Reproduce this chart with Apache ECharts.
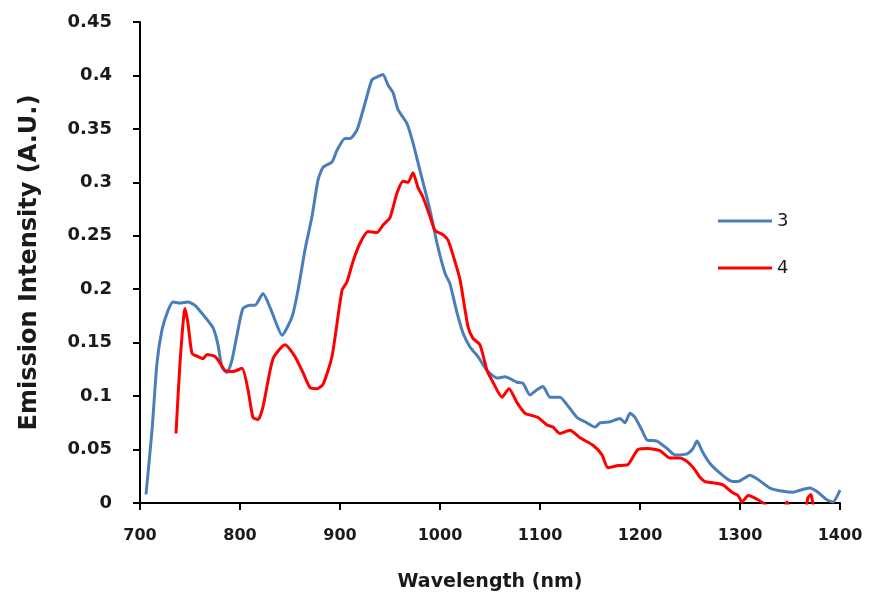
<!DOCTYPE html>
<html>
<head>
<meta charset="utf-8">
<script src="https://cdn.jsdelivr.net/npm/echarts@6.0.0/dist/echarts.min.js"></script>
<style>
  html, body { margin: 0; padding: 0; background: #fff; }
  #chart { width: 873px; height: 607px; }
</style>
</head>
<body>
<div id="chart"></div>
<script>
// sample 3 (blue)
var wl3 = [706, 712, 717, 722, 728, 733, 740, 748, 755, 765, 773, 778, 782, 787, 792, 798, 803, 810, 815, 823,
  830, 835, 842, 852, 858, 865, 872, 878, 883, 892, 897, 905, 910, 917, 925, 932, 938, 943, 948, 953,
  958, 967, 973, 980, 990, 997, 1005, 1010, 1017, 1023, 1030, 1038, 1047, 1057, 1065, 1077, 1083, 1090, 1097, 1103,
  1110, 1120, 1127, 1137, 1145, 1155, 1160, 1170, 1180, 1185, 1190, 1195, 1202, 1207, 1217, 1227, 1235, 1247, 1253, 1257,
  1263, 1270, 1280, 1290, 1298, 1310, 1318, 1330, 1343, 1353, 1360, 1370, 1378, 1387, 1393, 1400];
var int3 = [0.008, 0.068, 0.131, 0.162, 0.180, 0.188, 0.187, 0.188, 0.185, 0.174, 0.164, 0.148, 0.127, 0.122, 0.134, 0.162, 0.182, 0.185, 0.185, 0.196,
  0.183, 0.171, 0.157, 0.174, 0.199, 0.237, 0.268, 0.302, 0.314, 0.319, 0.330, 0.341, 0.341, 0.349, 0.374, 0.396, 0.399, 0.401, 0.391, 0.384,
  0.368, 0.355, 0.337, 0.311, 0.274, 0.243, 0.215, 0.205, 0.178, 0.159, 0.146, 0.137, 0.124, 0.117, 0.118, 0.113, 0.112, 0.101, 0.106, 0.109,
  0.099, 0.099, 0.092, 0.080, 0.076, 0.071, 0.075, 0.076, 0.079, 0.075, 0.084, 0.080, 0.068, 0.059, 0.058, 0.051, 0.045, 0.046, 0.051, 0.058,
  0.047, 0.037, 0.028, 0.021, 0.020, 0.026, 0.022, 0.014, 0.011, 0.010, 0.012, 0.014, 0.010, 0.003, 0.001, 0.012];

// sample 4 (red), the tail dips under the axis and is clipped
var wl4 = [736, 740, 745, 748, 752, 758, 763, 767, 775, 780, 785, 793, 802, 808, 813, 818, 823, 833, 845, 855,
  863, 870, 877, 883, 892, 902, 907, 913, 920, 928, 937, 943, 950, 957, 963, 968, 973, 978, 983, 990,
  995, 1003, 1008, 1013, 1020, 1028, 1033, 1040, 1047, 1053, 1062, 1069, 1077, 1085, 1098, 1107, 1113, 1120, 1130, 1140,
  1153, 1162, 1168, 1178, 1188, 1198, 1208, 1220, 1230, 1240, 1248, 1255, 1260, 1265, 1273, 1283, 1292, 1298, 1302, 1305,
  1308, 1312, 1318, 1323, 1330, 1345, 1347, 1350, 1365, 1368, 1371, 1374, 1385];
var int4 = [0.065, 0.131, 0.182, 0.168, 0.140, 0.137, 0.135, 0.139, 0.137, 0.131, 0.124, 0.123, 0.126, 0.106, 0.080, 0.078, 0.090, 0.135, 0.148, 0.137,
  0.122, 0.108, 0.107, 0.111, 0.137, 0.199, 0.207, 0.226, 0.243, 0.254, 0.253, 0.260, 0.267, 0.290, 0.301, 0.300, 0.309, 0.295, 0.286, 0.268,
  0.255, 0.251, 0.246, 0.232, 0.209, 0.165, 0.154, 0.148, 0.124, 0.113, 0.099, 0.107, 0.094, 0.084, 0.080, 0.073, 0.071, 0.065, 0.068, 0.061,
  0.054, 0.045, 0.033, 0.035, 0.036, 0.050, 0.051, 0.049, 0.042, 0.042, 0.038, 0.031, 0.024, 0.020, 0.019, 0.017, 0.010, 0.007, 0.001, 0.004,
  0.007, 0.006, 0.003, 0.000, -0.005, -0.004, 0.001, -0.005, -0.005, 0.005, 0.008, -0.004, -0.006];

var seriesNames = ['3', '4'];

function zip(xs, ys) {
  var out = [];
  for (var i = 0; i < xs.length; i++) out.push([xs[i], ys[i]]);
  return out;
}

var font = '"DejaVu Sans", sans-serif';
var textColor = '#1a1a1a';

var myChart = echarts.init(document.getElementById('chart'));

var option = {
  animation: false,
  backgroundColor: '#fff',
  grid: { left: 140, right: 33, top: 22, bottom: 104 },
  legend: {
    orient: 'vertical',
    left: 713,
    top: 207,
    itemGap: 29,
    itemWidth: 54,
    itemHeight: 3,
    icon: 'rect',
    textStyle: { fontFamily: font, fontSize: 18, color: textColor },
    data: seriesNames
  },
  xAxis: {
    type: 'value',
    min: 700,
    max: 1400,
    interval: 100,
    name: 'Wavelength (nm)',
    nameLocation: 'middle',
    nameGap: 70,
    nameTextStyle: { fontFamily: font, fontSize: 19, fontWeight: 'bold', color: textColor },
    axisLine: { lineStyle: { color: '#000', width: 2 } },
    axisTick: { inside: false, length: 7, lineStyle: { color: '#000', width: 2 } },
    axisLabel: {
      margin: 25, fontFamily: font, fontSize: 16, fontWeight: 'bold', color: textColor,
      formatter: function (v) { return String(v); }
    },
    splitLine: { show: false }
  },
  yAxis: {
    type: 'value',
    min: 0,
    max: 0.45,
    interval: 0.05,
    name: 'Emission Intensity (A.U.)',
    nameLocation: 'middle',
    nameGap: 98,
    nameTextStyle: { fontFamily: font, fontSize: 24, fontWeight: 'bold', color: textColor },
    axisLine: { show: true, lineStyle: { color: '#000', width: 2 } },
    axisTick: { show: true, inside: false, length: 7, lineStyle: { color: '#000', width: 2 } },
    axisLabel: { margin: 28, fontFamily: font, fontSize: 18, fontWeight: 'bold', color: textColor },
    splitLine: { show: false }
  },
  series: [{
    name: seriesNames[0],
    type: 'line',
    showSymbol: false,
    smooth: 0.2,
    clip: true,
    lineStyle: { color: '#4a7ebb', width: 3 },
    itemStyle: { color: '#4a7ebb' },
    data: zip(wl3, int3)
  }, {
    name: seriesNames[1],
    type: 'line',
    showSymbol: false,
    smooth: 0.2,
    clip: true,
    lineStyle: { color: '#ff0000', width: 3 },
    itemStyle: { color: '#ff0000' },
    data: zip(wl4, int4)
  }]
};

myChart.setOption(option);
</script>
</body>
</html>
